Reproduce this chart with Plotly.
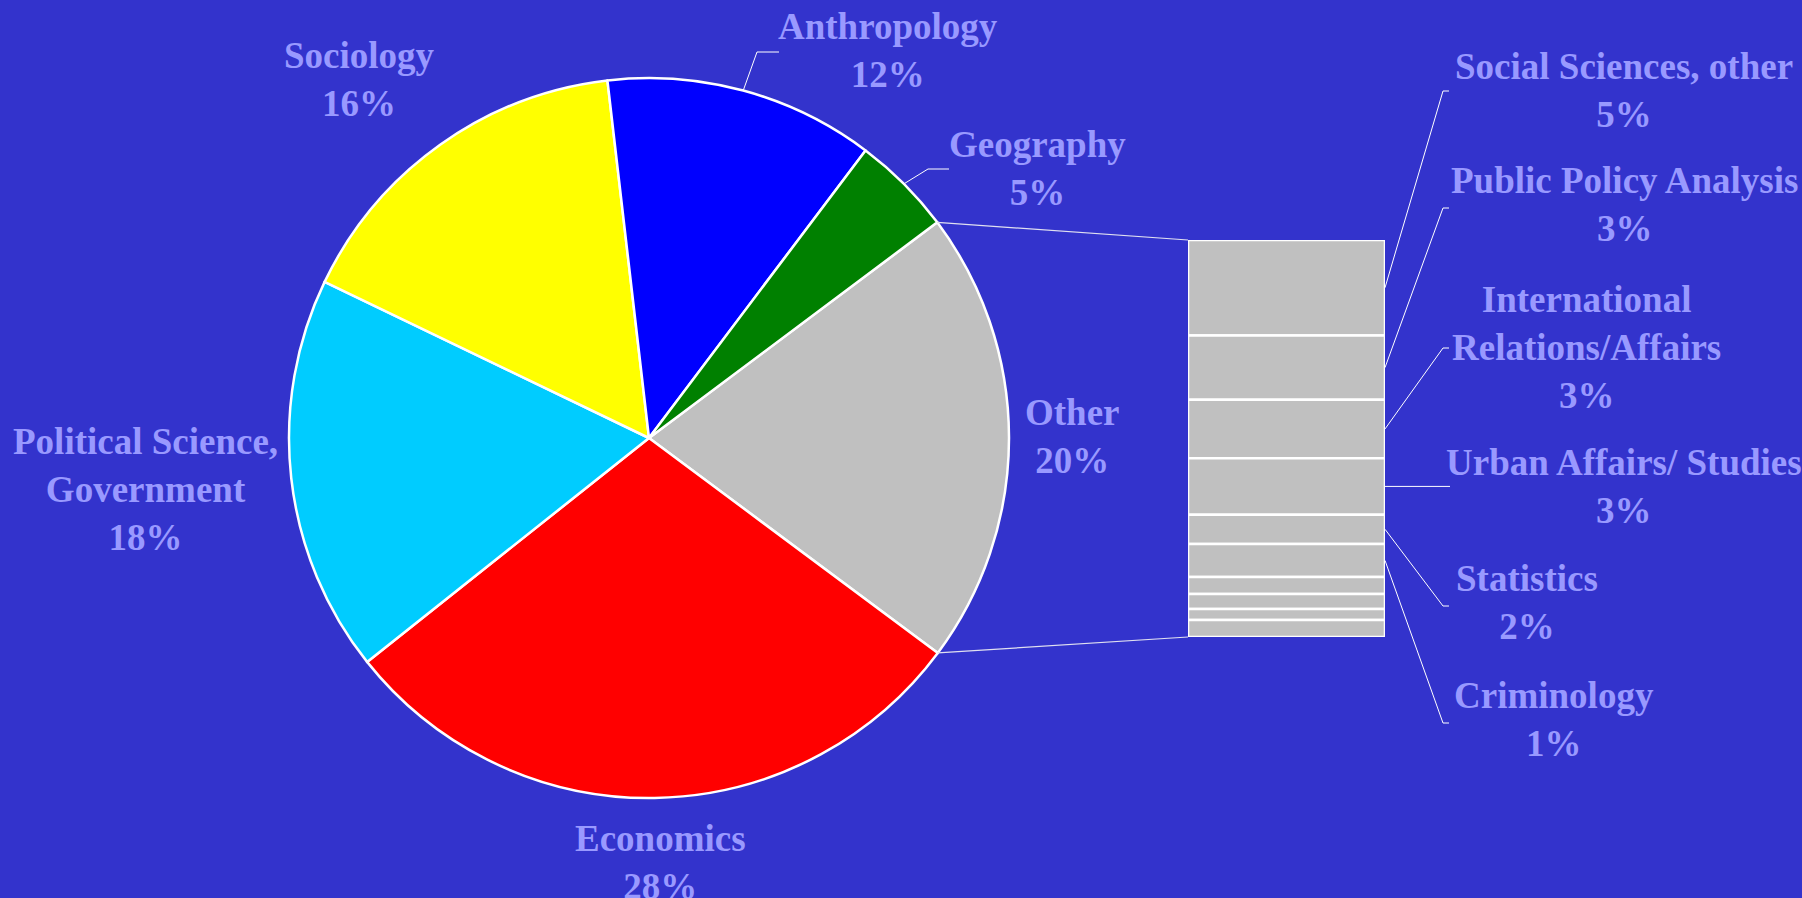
import numpy as np
import plotly.graph_objects as go

W, H = 1802, 898

# ---------------- data ----------------
pie_labels = ["Other", "Economics", "Political Science,<br>Government", "Sociology", "Anthropology", "Geography"]
pie_colors = ["#C0C0C0", "#FF0000", "#00CCFF", "#FFFF00", "#0000FF", "#008000"]
pie_pct_text = ["20%", "28%", "18%", "16%", "12%", "5%"]
main_values = [29.1, 17.8, 16.0, 12.1, 4.5]          # Economics .. Geography

bar_labels = ["Social Sciences, other", "Public Policy Analysis", "International<br>Relations/Affairs",
              "Urban Affairs/ Studies", "Statistics", "Criminology", "", "", "", ""]
bar_pct_text = ["5%", "3%", "3%", "3%", "2%", "1%", "", "", "", ""]
bar_values = [4.9, 3.3, 3.0, 2.9, 1.5, 1.7, 0.87, 0.77, 0.57, 0.87]   # top to bottom

# ---------------- layout constants (pixels) ----------------
BG = "#3333CC"
TXT = "#9999FF"
cx, cy, R = 649, 438, 360
rotation = 53.2
bar_left, bar_right, bar_top, bar_bottom = 1188, 1385, 240, 637

def P(x, y):
    return x / W, 1 - y / H

other_value = float(np.sum(bar_values))
pie_values = [other_value] + main_values
total = float(np.sum(pie_values))

fig = go.Figure()

fig.add_trace(go.Pie(
    labels=[l.replace("<br>", " ") for l in pie_labels],
    values=pie_values,
    marker=dict(colors=pie_colors, line=dict(color="white", width=2.5)),
    sort=False, direction="clockwise", rotation=rotation,
    textinfo="none", hoverinfo="label+value", showlegend=False,
    domain=dict(x=[(cx - R) / W, (cx + R) / W], y=[1 - (cy + R) / H, 1 - (cy - R) / H]),
))

# stacked bar (top to bottom order)
bv = np.array(bar_values)
tops = other_value - np.concatenate([[0], np.cumsum(bv)[:-1]])
bases = tops - bv
fig.add_trace(go.Bar(
    x=[0] * len(bv), y=bv, base=bases, width=1,
    marker=dict(color="#C0C0C0", line=dict(color="white", width=2.5)),
    hoverinfo="y", showlegend=False, xaxis="x", yaxis="y",
))

xd = [bar_left / W, bar_right / W]
yd = [1 - bar_bottom / H, 1 - bar_top / H]
fig.update_layout(
    width=W, height=H, margin=dict(l=0, r=0, t=0, b=0),
    paper_bgcolor=BG, plot_bgcolor=BG, barmode="overlay",
    xaxis=dict(domain=xd, range=[-0.5, 0.5], visible=False, fixedrange=True),
    yaxis=dict(domain=yd, range=[0, other_value], visible=False, fixedrange=True),
)

shapes = []
def edge_point(angle_deg):
    a = np.radians(angle_deg)
    return cx + R * np.sin(a), cy - R * np.cos(a)

# connectors pie -> bar
a0 = rotation
a1 = rotation + 360 * other_value / total
for ang, by in [(a0, bar_top), (a1, bar_bottom)]:
    ex, ey = edge_point(ang)
    x0, y0 = P(ex, ey)
    x1, y1 = P(bar_left, by)
    shapes.append(dict(type="line", xref="paper", yref="paper", x0=x0, y0=y0, x1=x1, y1=y1,
                       line=dict(color="#E0E0F0", width=1.2)))

# leader lines for Anthropology and Geography (slice mid angles)
cum = np.cumsum([0] + pie_values)
starts = rotation + 360 * cum[:-1] / total
mids = starts + 180 * np.array(pie_values) / total
pie_elbows = {4: ((757, 52), 779), 5: ((928, 169), 949)}
for i, ((exx, eyy), endx) in pie_elbows.items():
    sx, sy = edge_point(mids[i])
    pts = [P(sx, sy), P(exx, eyy), P(endx, eyy)]
    path = "M {} {} L {} {} L {} {}".format(*[c for p in pts for c in p])
    shapes.append(dict(type="path", xref="paper", yref="paper", path=path,
                       line=dict(color="white", width=1)))

# leader lines for bar segments
elbows = [91, 208, 348, None, 606, 723]
for i, ey in enumerate(elbows):
    mid = bases[i] + bv[i] / 2
    my = bar_bottom - (mid / other_value) * (bar_bottom - bar_top)
    if ey is None:
        pts = [P(bar_right, my), P(1450, my)]
        path = "M {} {} L {} {}".format(*[c for p in pts for c in p])
    else:
        pts = [P(bar_right, my), P(1443, ey), P(1449, ey)]
        path = "M {} {} L {} {} L {} {}".format(*[c for p in pts for c in p])
    shapes.append(dict(type="path", xref="paper", yref="paper", path=path,
                       line=dict(color="white", width=1)))

fig.update_layout(shapes=shapes)

# labels
pie_label_pos = [(1072, 436), (660, 862), (145, 489), (359, 80), (888, 50), (1037, 168)]
bar_label_pos = [(1624, 90), (1624, 205), (1586, 347), (1624, 486), (1527, 602), (1554, 719)]
font = dict(family="Liberation Serif", size=37, color=TXT, weight="bold")
annos = []
for lab, pct, (x, y) in zip(pie_labels, pie_pct_text, pie_label_pos):
    px_, py_ = P(x, y)
    annos.append(dict(text=f"{lab}<br>{pct}", x=px_, y=py_, xref="paper", yref="paper",
                      xanchor="center", yanchor="middle", showarrow=False, font=font, align="center"))
for lab, pct, (x, y) in zip(bar_labels[:6], bar_pct_text[:6], bar_label_pos):
    px_, py_ = P(x, y)
    annos.append(dict(text=f"{lab}<br>{pct}", x=px_, y=py_, xref="paper", yref="paper",
                      xanchor="center", yanchor="middle", showarrow=False, font=font, align="center"))
fig.update_layout(annotations=annos)

fig.write_html("out.html", config={"displayModeBar": False},
               post_script="document.body.style.margin='0px';document.body.style.overflow='hidden';")
